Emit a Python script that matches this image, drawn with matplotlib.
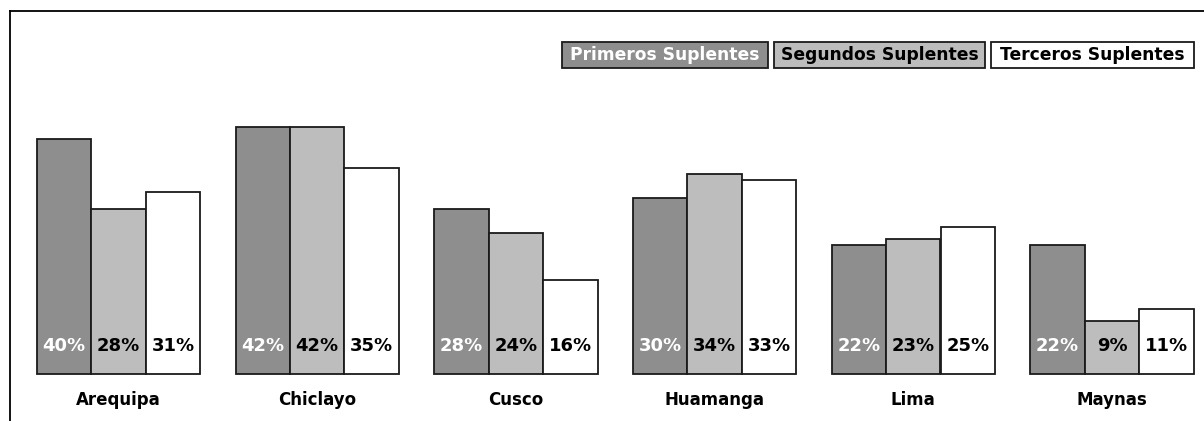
import matplotlib
matplotlib.use("Agg")
import matplotlib.pyplot as plt
from matplotlib.patches import Rectangle
import numpy as np

categories = ["Arequipa", "Chiclayo", "Cusco", "Huamanga", "Lima", "Maynas"]
series_names = ["Primeros Suplentes", "Segundos Suplentes", "Terceros Suplentes"]
primeros = [40, 42, 28, 30, 22, 22]
segundos = [28, 42, 24, 34, 23, 9]
terceros = [31, 35, 16, 33, 25, 11]

series = [primeros, segundos, terceros]
fills = ["#8e8e8e", "#bdbdbd", "#ffffff"]
text_colors = ["white", "black", "black"]

W, H = 1204, 421
fig = plt.figure(figsize=(W / 100, H / 100), dpi=100)
ax = fig.add_axes([10 / W, 0, (W - 10) / W, (H - 11) / H])

px_per_unit = 5.88
ax.set_ylim(-47 / px_per_unit, (374 - 11) / px_per_unit)
ax.set_xlim((10 - 118.5) / 198.7, (W - 118.5) / 198.7)

bw = 54.4 / 198.7
x = np.arange(len(categories))
font = "DejaVu Sans"
for j, (vals, fc, tc) in enumerate(zip(series, fills, text_colors)):
    pos = x + (j - 1) * bw
    ax.bar(pos, vals, width=bw, color=fc, edgecolor="#1a1a1a", linewidth=1.3, zorder=2)
    for p, v in zip(pos, vals):
        ax.text(p, 4.7, f"{v}%", ha="center", va="center", color=tc,
                fontsize=13, fontweight="bold", family=font, zorder=3)

for xi, c in zip(x, categories):
    ax.text(xi, -4.4, c, ha="center", va="center", fontsize=12,
            fontweight="bold", family=font)

for s in ["right", "bottom"]:
    ax.spines[s].set_visible(False)
ax.spines["left"].set_linewidth(1.3)
ax.spines["top"].set_linewidth(1.3)
ax.set_xticks([])
ax.set_yticks([])

# legend boxes (right aligned), pixel extents
legend_boxes = [(562, 768), (774, 985), (991, 1194)]
y_top, y_bot = 42, 68
for name, fc, tc, (x0, x1) in zip(series_names, fills, text_colors, legend_boxes):
    fig.add_artist(Rectangle((x0 / W, 1 - y_bot / H), (x1 - x0) / W, (y_bot - y_top) / H,
                             transform=fig.transFigure, facecolor=fc,
                             edgecolor="#1a1a1a", linewidth=1.3))
    fig.text((x0 + x1) / 2 / W, 1 - (y_top + y_bot) / 2 / H, name, ha="center", va="center",
             color=tc, fontsize=12.3, fontweight="bold", family=font)

fig.savefig("out.png", dpi=100)
